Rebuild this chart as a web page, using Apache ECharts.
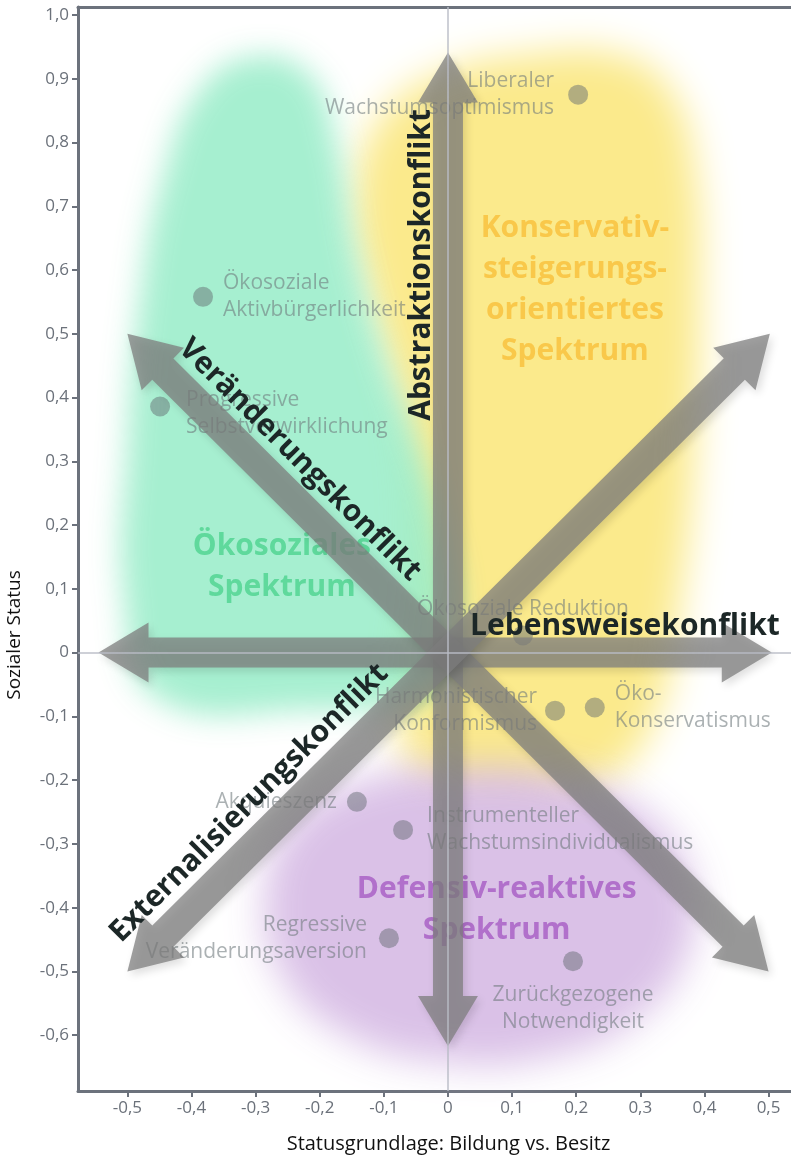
<!DOCTYPE html>
<html>
<head>
<meta charset="utf-8">
<script src="https://cdn.jsdelivr.net/npm/echarts@6.0.0/dist/echarts.min.js"></script>
<style>
  html, body { margin: 0; padding: 0; background: #fff; }
  #chart { width: 791px; height: 1159px; }
</style>
</head>
<body>
<div id="chart"></div>
<script>
// Milieus: Statusgrundlage (x) und sozialer Status (y)
const milieuNames = [
  'Liberaler\nWachstumsoptimismus',
  'Ökosoziale\nAktivbürgerlichkeit',
  'Progressive\nSelbstverwirklichung',
  'Ökosoziale Reduktion',
  'Harmonistischer\nKonformismus',
  'Öko-\nKonservatismus',
  'Akquieszenz',
  'Instrumenteller\nWachstumsindividualismus',
  'Regressive\nVeränderungsaversion',
  'Zurückgezogene\nNotwendigkeit'
];
const statusBasis = [0.203, -0.382, -0.449, 0.117, 0.167, 0.229, -0.142, -0.070, -0.092, 0.195];
const socialStatus = [0.875, 0.558, 0.386, 0.027, -0.091, -0.086, -0.234, -0.278, -0.448, -0.484];

const xTicks = [-0.5, -0.4, -0.3, -0.2, -0.1, 0, 0.1, 0.2, 0.3, 0.4, 0.5];
const yTicks = [-0.6, -0.5, -0.4, -0.3, -0.2, -0.1, 0, 0.1, 0.2, 0.3, 0.4, 0.5, 0.6, 0.7, 0.8, 0.9, 1.0];

// Konfliktachsen (Doppelpfeile)
const conflictNames = ['Abstraktionskonflikt', 'Lebensweisekonflikt', 'Veränderungskonflikt', 'Externalisierungskonflikt'];
const conflictFrom = [[0, -0.617], [-0.545, 0], [-0.5, 0.5], [-0.5, -0.5]];
const conflictTo = [[0, 0.941], [0.505, 0], [0.5, -0.5], [0.502, 0.5]];
const conflictLabelAt = [[-0.042, 0.608], [0.276, 0.041], [-0.231, 0.302], [-0.310, -0.236]];
const conflictLabelAngle = [90, 0, -45, 45];

// Spektren (weiche Flächen)
const spectrumNames = ['Konservativ-\nsteigerungs-\norientiertes\nSpektrum', 'Ökosoziales\nSpektrum', 'Defensiv-reaktives\nSpektrum'];
const spectrumLabelAt = [[0.198, 0.569], [-0.259, 0.134], [0.076, -0.403]];
const yellowArea = [[-0.106, 0.836], [-0.012, 0.906], [0.128, 0.9375], [0.268, 0.9375], [0.346, 0.883], [0.385, 0.758],
  [0.393, 0.555], [0.385, 0.320], [0.362, 0.086], [0.323, -0.102], [0.237, -0.203], [0.081, -0.227], [-0.044, -0.195],
  [-0.075, -0.070], [-0.059, 0.148], [-0.075, 0.367], [-0.122, 0.555], [-0.145, 0.711]];
const greenArea = [[-0.300, 0.935], [-0.215, 0.905], [-0.176, 0.805], [-0.145, 0.633], [-0.098, 0.461], [-0.044, 0.320],
  [-0.005, 0.180], [0.011, 0.055], [-0.012, -0.055], [-0.231, -0.090], [-0.455, -0.070], [-0.505, 0.086],
  [-0.500, 0.320], [-0.480, 0.555], [-0.445, 0.742], [-0.385, 0.885]];
const purpleArea = [[-0.246, -0.273], [-0.137, -0.203], [0.019, -0.180], [0.190, -0.195], [0.315, -0.258], [0.377, -0.352],
  [0.377, -0.461], [0.299, -0.570], [0.159, -0.633], [-0.012, -0.641], [-0.168, -0.594], [-0.262, -0.500], [-0.285, -0.383]];

const FONT = '"Open Sans", "Noto Sans", sans-serif';
const areas = [
  { pts: yellowArea, color: 'rgb(251,234,140)', shadow: 'rgba(251,234,140,1)', blur: 38 },
  { pts: greenArea, color: 'rgb(150,236,200)', shadow: 'rgba(150,236,200,0.85)', blur: 30 },
  { pts: purpleArea, color: 'rgb(214,186,228)', shadow: 'rgba(214,186,228,0.9)', blur: 38 }
];
const spectrumColors = ['#f9c84a', '#5fd99c', '#b170cb'];

// label placement per milieu
const labelPlace = [
  { position: 'left', distance: 14 },
  { position: 'right', distance: 10 },
  { position: 'right', distance: 16, offset: [0, 7] },
  { position: 'top', distance: 3 },
  { position: 'left', distance: 8 },
  { position: 'right', distance: 10 },
  { position: 'left', distance: 10 },
  { position: 'right', distance: 14 },
  { position: 'left', distance: 12 },
  { position: 'bottom', distance: 10 }
];

function fmt(v) {
  if (Math.abs(v) < 1e-9) return '0';
  return v.toFixed(1).replace('.', ',');
}

const chart = echarts.init(document.getElementById('chart'));

const OFF = 3000; // shape drawn off-canvas, only its blurred shadow is visible

const option = {
  animation: false,
  grid: { left: 78, right: 0, top: 7, bottom: 64 },
  xAxis: [
    {
      type: 'value', min: -0.577, max: 0.535,
      name: 'Statusgrundlage: Bildung vs. Besitz', nameLocation: 'middle', nameGap: 43,
      nameTextStyle: { fontFamily: FONT, fontSize: 20, color: '#111', padding: [0, 0, 0, 28] },
      axisLine: { show: true, onZero: false, lineStyle: { color: '#6c727c', width: 3 } },
      axisTick: { show: true, length: 6, customValues: xTicks, lineStyle: { color: '#6c727c', width: 2 } },
      axisLabel: { customValues: xTicks, formatter: fmt, fontFamily: FONT, fontSize: 17, color: '#6b717a', margin: 9 },
      splitLine: { show: false }
    },
    {
      type: 'value', position: 'top', min: -0.577, max: 0.535,
      axisLine: { show: true, onZero: false, lineStyle: { color: '#6c727c', width: 3 } },
      axisTick: { show: false }, axisLabel: { show: false }, splitLine: { show: false }
    }
  ],
  yAxis: {
    type: 'value', min: -0.6875, max: 1.0125,
    axisLine: { show: true, onZero: false, lineStyle: { color: '#6c727c', width: 3 } },
    axisTick: { show: true, length: 6, customValues: yTicks, lineStyle: { color: '#6c727c', width: 2 } },
    axisLabel: { customValues: yTicks, formatter: fmt, fontFamily: FONT, fontSize: 17, color: '#6b717a', margin: 9 },
    splitLine: { show: false }
  },
  graphic: [{
    type: 'text', x: 15, y: 635, rotation: Math.PI / 2,
    style: { text: 'Sozialer Status', font: '19px ' + FONT, fill: '#111', align: 'center', verticalAlign: 'middle' }
  }],
  series: [
    // weiche Flächen
    {
      type: 'custom', z: 1, silent: true, clip: false,
      data: areas.map(() => [0, 0]),
      renderItem(params, api) {
        const a = areas[params.dataIndex];
        const pts = a.pts.map(p => { const c = api.coord(p); return [c[0] - OFF, c[1]]; });
        return {
          type: 'polygon',
          shape: { points: pts, smooth: 0.45 },
          style: { fill: a.color, shadowColor: a.shadow, shadowBlur: a.blur, shadowOffsetX: OFF, shadowOffsetY: 0 }
        };
      }
    },
    // Spektrum-Beschriftung
    {
      type: 'custom', z: 2, silent: true, clip: false,
      data: spectrumNames.map(() => [0, 0]),
      renderItem(params, api) {
        const i = params.dataIndex;
        const c = api.coord(spectrumLabelAt[i]);
        return {
          type: 'text', x: c[0], y: c[1],
          style: {
            text: spectrumNames[i], font: 'bold 30px ' + FONT, fill: spectrumColors[i],
            align: 'center', verticalAlign: 'middle', lineHeight: 41
          }
        };
      }
    },
    // Milieus
    {
      type: 'scatter', z: 3, silent: true,
      symbolSize: 20,
      itemStyle: { color: 'rgba(98,106,112,0.6)' },
      data: statusBasis.map((x, i) => ({
        value: [x, socialStatus[i]],
        label: Object.assign({
          show: true, formatter: milieuNames[i], fontFamily: FONT, fontSize: 21, lineHeight: 27,
          color: 'rgba(110,120,124,0.72)'
        }, labelPlace[i])
      }))
    },
    // Konfliktpfeile
    {
      type: 'custom', z: 4, silent: true, clip: false,
      data: conflictNames.map(() => [0, 0]),
      renderItem(params, api) {
        const i = params.dataIndex;
        const a = api.coord(conflictFrom[i]);
        const b = api.coord(conflictTo[i]);
        const dx = b[0] - a[0], dy = b[1] - a[1];
        const len = Math.sqrt(dx * dx + dy * dy);
        const ux = dx / len, uy = dy / len, nx = -uy, ny = ux;
        const w = 15, h = 30, L = 50;
        const P = (base, along, side) => [base[0] + ux * along + nx * side, base[1] + uy * along + ny * side];
        const pts = [
          a, P(a, L, h), P(a, L, w), P(b, -L, w), P(b, -L, h),
          b, P(b, -L, -h), P(b, -L, -w), P(a, L, -w), P(a, L, -h)
        ];
        return {
          type: 'polygon', shape: { points: pts },
          style: {
            fill: 'rgba(126,126,126,0.74)',
            shadowColor: 'rgba(0,0,0,0.18)', shadowBlur: 8, shadowOffsetX: 3, shadowOffsetY: 4
          }
        };
      }
    },
    // Nulllinien
    {
      type: 'scatter', z: 5, silent: true, data: [],
      markLine: {
        silent: true, symbol: 'none', label: { show: false },
        lineStyle: { color: 'rgba(185,188,198,0.7)', width: 2, type: 'solid' },
        data: [{ xAxis: 0 }, { yAxis: 0 }]
      }
    },
    // Konfliktbeschriftung
    {
      type: 'custom', z: 6, silent: true, clip: false,
      data: conflictNames.map(() => [0, 0]),
      renderItem(params, api) {
        const i = params.dataIndex;
        const c = api.coord(conflictLabelAt[i]);
        return {
          type: 'text', x: c[0], y: c[1], rotation: conflictLabelAngle[i] * Math.PI / 180,
          style: {
            text: conflictNames[i], font: 'bold 30px ' + FONT, fill: '#1c2727',
            align: 'center', verticalAlign: 'middle'
          }
        };
      }
    }
  ]
};

chart.setOption(option);
</script>
</body>
</html>
